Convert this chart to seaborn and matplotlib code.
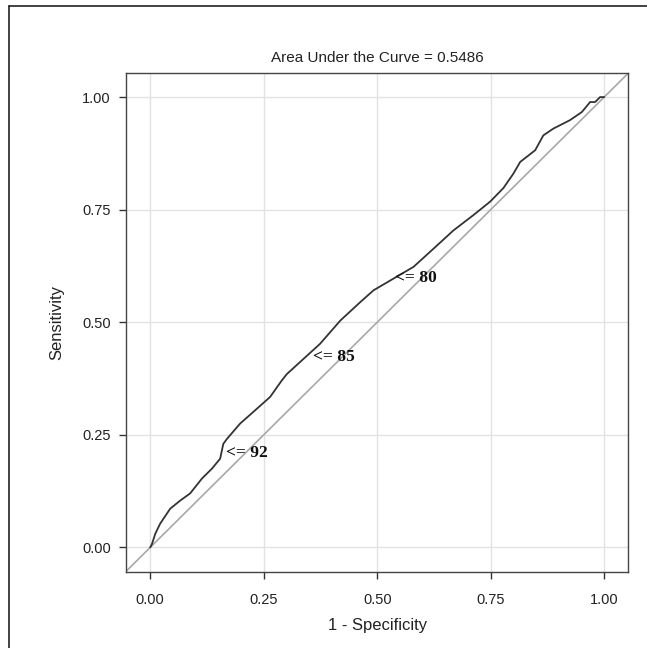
import matplotlib
matplotlib.use("Agg")
import matplotlib.pyplot as plt
import seaborn as sns
import numpy as np
import pandas as pd

# ROC curve points
fpr = [0.0, 0.004, 0.011, 0.022, 0.044, 0.066, 0.088, 0.114, 0.136, 0.154, 0.161,
       0.169, 0.198, 0.235, 0.264, 0.29, 0.301, 0.374, 0.419, 0.463, 0.492, 0.536,
       0.58, 0.628, 0.668, 0.712, 0.749, 0.778, 0.80, 0.815, 0.848, 0.866, 0.888,
       0.925, 0.951, 0.969, 0.98, 0.991, 1.0]
sens = [0.0, 0.008, 0.03, 0.053, 0.086, 0.104, 0.12, 0.153, 0.175, 0.197, 0.23,
        0.241, 0.275, 0.308, 0.334, 0.371, 0.385, 0.452, 0.504, 0.545, 0.571, 0.597,
        0.623, 0.667, 0.704, 0.738, 0.768, 0.798, 0.83, 0.856, 0.882, 0.915, 0.93,
        0.949, 0.967, 0.989, 0.989, 1.0, 1.0]

# cutoff labels (text, x, y)
cut_labels = ["<= 92", "<= 85", "<= 80"]
cut_x = [0.167, 0.359, 0.54]
cut_y = [0.209, 0.422, 0.598]

auc = 0.5486
ticks = [0.0, 0.25, 0.5, 0.75, 1.0]

roc = pd.DataFrame({"fpr": fpr, "sens": sens})

sns.set_style("white")
plt.rcParams["font.family"] = ["Liberation Sans", "DejaVu Sans"]

fig = plt.figure(figsize=(6.47, 6.48), dpi=100)
ax = fig.add_axes([0.195, 0.117, 0.776, 0.770])

ax.grid(True, color="#e2e2e2", linewidth=1.0)
ax.set_axisbelow(True)
ax.axline((0, 0), (1, 1), color="#a8a8a8", linewidth=1.2, zorder=2)
sns.lineplot(data=roc, x="fpr", y="sens", sort=False, estimator=None,
             color="#333333", linewidth=1.3, ax=ax, zorder=3)

for lab, x, y in zip(cut_labels, cut_x, cut_y):
    ax.text(x, y, lab, ha="left", va="center", fontsize=12.5, fontweight="bold",
            family=["Liberation Serif", "DejaVu Serif"], color="#111111", zorder=4)

ax.set_xlim(-0.053, 1.053)
ax.set_ylim(-0.055, 1.053)
ax.set_xticks(ticks)
ax.set_yticks(ticks)
ax.set_xticklabels([f"{t:.2f}" for t in ticks])
ax.set_yticklabels([f"{t:.2f}" for t in ticks])
ax.tick_params(axis="both", which="both", direction="out", length=5, width=1,
               color="#333333", labelsize=10.5, labelcolor="#222222",
               bottom=True, left=True)
ax.tick_params(axis="x", pad=10)
ax.tick_params(axis="y", pad=6)
for s in ax.spines.values():
    s.set_color("#444444")
    s.set_linewidth(1.0)

ax.set_xlabel("1 - Specificity", fontsize=12, color="#222222", labelpad=8)
ax.set_ylabel("Sensitivity", fontsize=12, color="#222222", labelpad=13)
ax.set_title(f"Area Under the Curve = {auc:.4f}", fontsize=11, color="#222222", pad=8)

# outer frame (only top and left edges visible in the crop)
fig.add_artist(plt.Line2D([9 / 647, 1.0], [1 - 6 / 648, 1 - 6 / 648],
                          transform=fig.transFigure, color="#222222", linewidth=1.2))
fig.add_artist(plt.Line2D([9 / 647, 9 / 647], [0.0, 1 - 6 / 648],
                          transform=fig.transFigure, color="#222222", linewidth=1.2))

fig.savefig("out.png", dpi=100)
